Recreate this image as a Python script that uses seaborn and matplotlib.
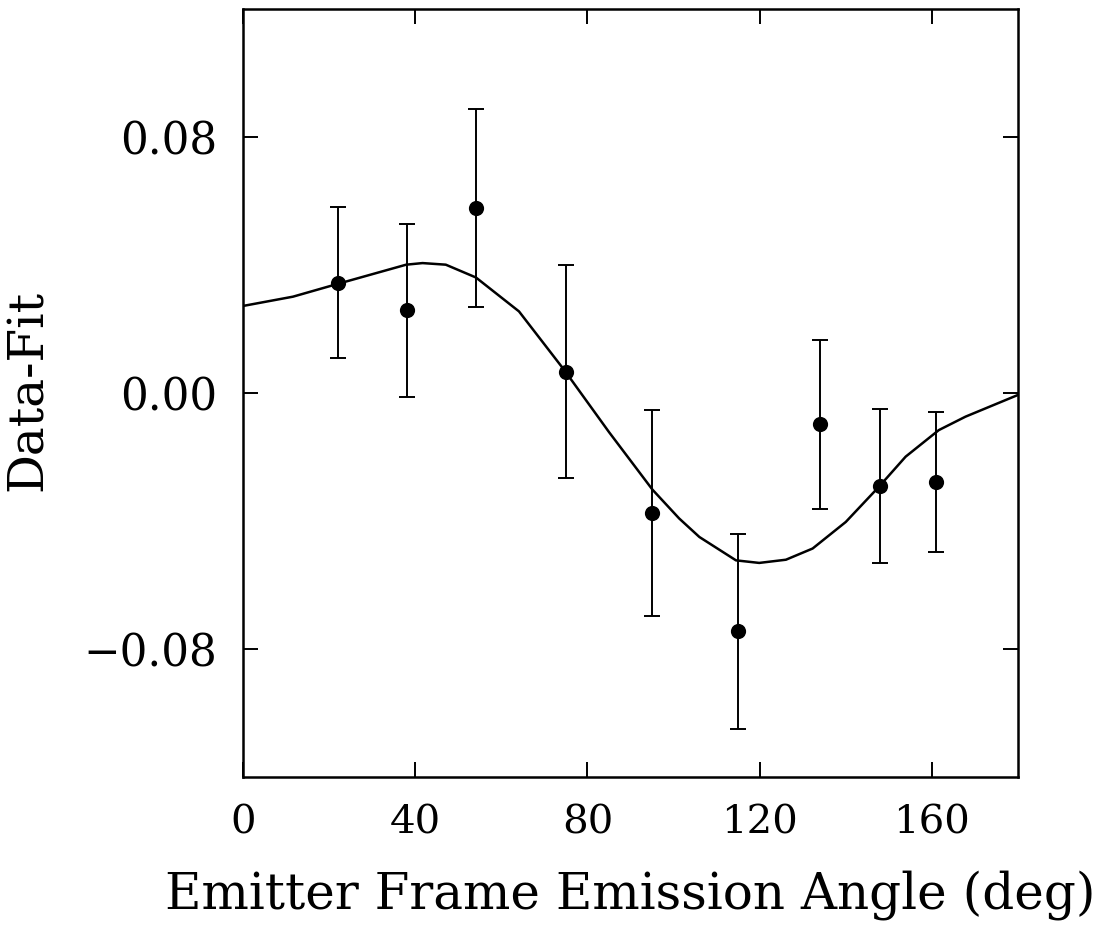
import matplotlib
matplotlib.use("Agg")
import matplotlib.pyplot as plt
import seaborn as sns
import numpy as np
import pandas as pd

# Data points (emission angle in degrees, Data-Fit residual, error)
angle = [22, 38, 54, 75, 95, 115, 134, 148, 161]
resid = [0.0345, 0.0258, 0.0578, 0.0067, -0.0374, -0.0745, -0.0097, -0.0291, -0.0278]
err = [0.0237, 0.0271, 0.0310, 0.0332, 0.0322, 0.0305, 0.0264, 0.0240, 0.0219]

# Fit curve
curve_angle = [0, 11.6, 22, 37.9, 41.7, 47.1, 54.1, 64.1, 74.6, 85.0, 95.1,
               101.3, 106, 114.5, 119.9, 126.1, 132.3, 140, 147.7, 153.9,
               161.6, 167.8, 180]
curve_val = [0.0272, 0.0301, 0.0341, 0.0401, 0.0406, 0.0401, 0.0361, 0.0255,
             0.0072, -0.0122, -0.0302, -0.0392, -0.0450, -0.0523, -0.0531,
             -0.0521, -0.0486, -0.0403, -0.0293, -0.0199, -0.0116, -0.0074,
             -0.0006]

xticks = [0, 40, 80, 120, 160]
yticks = [-0.08, 0.00, 0.08]
ytick_labels = ["\u22120.08", "0.00", "0.08"]

sns.set_style("ticks")
plt.rcParams["font.family"] = ["DejaVu Serif"]
plt.rcParams["text.color"] = "black"
plt.rcParams["axes.labelcolor"] = "black"
plt.rcParams["xtick.color"] = "black"
plt.rcParams["ytick.color"] = "black"

fig = plt.figure(figsize=(11.01, 9.26), dpi=100)
ax = fig.add_axes([243 / 1101, 1 - 777 / 926, (1018 - 243) / 1101, (777 - 9) / 926])

pts = pd.DataFrame({"angle": angle, "resid": resid, "err": err})
curve = pd.DataFrame({"angle": curve_angle, "val": curve_val})

sns.lineplot(data=curve, x="angle", y="val", ax=ax, color="black", lw=1.8,
             sort=True, estimator=None)
ax.errorbar(pts["angle"], pts["resid"], yerr=pts["err"], fmt="none",
            ecolor="black", elinewidth=1.4, capsize=5.5, capthick=1.4)
sns.scatterplot(data=pts, x="angle", y="resid", ax=ax, color="black",
                s=120, edgecolor="black", linewidth=0, zorder=5)

ax.set_xlim(0, 180)
ax.set_ylim(-0.12, 0.12)
ax.set_xticks(xticks)
ax.set_xticklabels([str(t) for t in xticks], fontsize=29)
ax.set_yticks(yticks)
ax.set_yticklabels(ytick_labels, fontsize=31.5)
ax.tick_params(axis="both", direction="in", length=11, width=1.4,
               top=True, right=True, color="black", labelcolor="black")
ax.tick_params(axis="x", pad=20)
ax.tick_params(axis="y", pad=18.5)
for sp in ax.spines.values():
    sp.set_linewidth(1.8)
    sp.set_color("black")

ax.set_xlabel("Emitter Frame Emission Angle (deg)", fontsize=36, color="black")
ax.set_ylabel("Data-Fit", fontsize=35, color="black")
ax.xaxis.label.set_verticalalignment("baseline")
ax.yaxis.label.set_verticalalignment("baseline")
ax.xaxis.set_label_coords(0.5, (777 - 908) / 768)
ax.yaxis.set_label_coords((42 - 243) / 775, (777 - 390) / 768)

fig.savefig("out.png", dpi=100, facecolor="white")
